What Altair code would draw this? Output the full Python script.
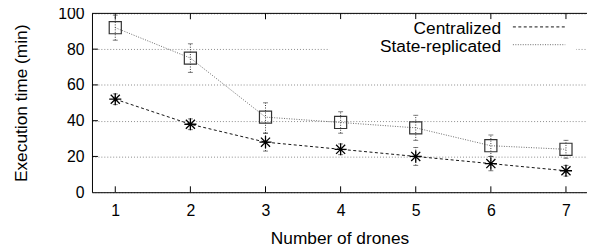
import altair as alt
import pandas as pd

# ---- data ----
drones = [1, 2, 3, 4, 5, 6, 7]
series_names = ["Centralized", "State-replicated"]
central = [52, 38, 28, 24, 20, 16, 12]
central_lo = [49, 35, 23, 21, 15, 12, 9]
central_hi = [55, 41, 33, 27, 25, 20, 15]
state = [92, 75, 42, 39, 36, 26, 24]
state_lo = [85, 67, 33, 33, 29, 20, 19]
state_hi = [99, 83, 50, 45, 43, 32, 29]
y_ticks = [0, 20, 40, 60, 80, 100]

FONT = "Liberation Sans"
W, H = 501, 181
x_scale = alt.Scale(domain=[0.69, 7.28], nice=False, zero=False)
y_scale = alt.Scale(domain=[0, 100], nice=False, zero=False)

df_c = pd.DataFrame({"x": drones, "y": central, "lo": central_lo, "hi": central_hi})
df_s = pd.DataFrame({"x": drones, "y": state, "lo": state_lo, "hi": state_hi})
df_x = pd.DataFrame({"x": drones})
df_y = pd.DataFrame({"t": y_ticks[1:-1]})

x_axis = alt.Axis(values=drones, format="d", grid=False, ticks=False, domainColor="black",
                  labelFontSize=16, labelPadding=11, labelColor="black", labelFont=FONT,
                  labelOverlap=False, labelFlush=False,
                  title="Number of drones", titleFontSize=17.5, titleFontWeight="normal",
                  titleFont=FONT, titleColor="black", titleX=W / 2, titleY=52,
                  titleAlign="center", titleBaseline="alphabetic")
y_axis = alt.Axis(values=y_ticks, format="d", grid=True, gridDash=[1, 2], gridColor="#8a8a8a",
                  ticks=False, domainColor="black", labelFontSize=16, labelPadding=8,
                  labelColor="black", labelFont=FONT, labelOverlap=False, labelFlush=False,
                  title="Execution time (min)", titleFontSize=17.5, titleFontWeight="normal",
                  titleFont=FONT, titleColor="black", titleX=-71, titleY=H / 2,
                  titleAngle=270, titleAlign="center", titleBaseline="middle")


def XF(field):
    return alt.X(field, type="quantitative", scale=x_scale, axis=x_axis)


def YF(field):
    return alt.Y(field, type="quantitative", scale=y_scale, axis=y_axis)


def YD(v):
    return alt.YDatum(v, type="quantitative", scale=y_scale, axis=y_axis)


# top border and inward ticks
top_border = alt.Chart(df_x).mark_rule(color="black", strokeWidth=1).encode(
    x=XF("x"), y=YD(100), opacity=alt.value(1))
top_border = alt.Chart(df_x.head(1)).mark_rule(color="black", strokeWidth=1).encode(y=YD(100))
bottom_ticks = alt.Chart(df_x).mark_rule(color="black").encode(
    x=XF("x"), y=YD(0), y2=alt.datum(3.3))
top_ticks = alt.Chart(df_x).mark_rule(color="black").encode(
    x=XF("x"), y=YD(100), y2=alt.datum(96.7))
left_ticks = alt.Chart(df_y).mark_rule(color="black").encode(
    y=YF("t"), x=alt.value(0), x2=alt.value(6))

# legend background
legend_bg = alt.Chart(df_x.head(1)).mark_rect(fill="white").encode(
    x=alt.value(240), x2=alt.value(490), y=alt.value(6), y2=alt.value(42))

styles = {
    "Centralized": dict(color="#111111", dash=[3, 2.5]),
    "State-replicated": dict(color="#6a6a6a", dash=[1, 1.5]),
}

layers = [bottom_ticks, top_ticks, left_ticks, top_border]

for name, df in zip(series_names, [df_c, df_s]):
    st = styles[name]
    line = alt.Chart(df).mark_line(color=st["color"], strokeWidth=1, strokeDash=st["dash"]).encode(
        x=XF("x"), y=YF("y"))
    err = alt.Chart(df).mark_rule(color="#333333", strokeWidth=1, strokeDash=[1, 1.5]).encode(
        x=XF("x"), y=YF("lo"), y2="hi:Q")
    cap_lo = alt.Chart(df).mark_tick(orient="horizontal", color="#444444", thickness=1, size=5).encode(
        x=XF("x"), y=YF("lo"))
    cap_hi = alt.Chart(df).mark_tick(orient="horizontal", color="#444444", thickness=1, size=5).encode(
        x=XF("x"), y=YF("hi"))
    layers += [line, err, cap_lo, cap_hi]

stars = alt.Chart(df_c).mark_point(
    shape="M-1,0L1,0M0,-1L0,1M-0.75,-0.75L0.75,0.75M-0.75,0.75L0.75,-0.75",
    filled=False, color="#000000", strokeWidth=1.3, size=150, opacity=1).encode(x=XF("x"), y=YF("y"))
squares = alt.Chart(df_s).mark_point(
    shape="square", filled=False, color="#333333", strokeWidth=1.2, size=150, opacity=1).encode(
    x=XF("x"), y=YF("y"))
layers += [stars, squares, legend_bg]

# legend entries
leg_y = [20.7, 38.7]
for i, name in enumerate(series_names):
    st = styles[name]
    txt = alt.Chart(df_x.head(1)).mark_text(
        align="right", baseline="alphabetic", fontSize=17.5, font=FONT, color="black").encode(
        x=alt.value(414), y=alt.value(leg_y[i]), text=alt.value(name))
    sample = alt.Chart(df_x.head(1)).mark_rule(color=st["color"], strokeWidth=1, strokeDash=st["dash"]).encode(
        x=alt.value(426), x2=alt.value(479), y=alt.value(leg_y[i] - 7))
    layers += [txt, sample]

chart = alt.layer(*layers).properties(
    width=W, height=H,
    autosize=alt.AutoSizeParams(type="none"),
    padding={"left": 85, "top": 4, "right": 0, "bottom": 54},
    background="white",
).configure_view(strokeWidth=0)

chart.save("out.html", embed_options={"renderer": "svg", "actions": False})
